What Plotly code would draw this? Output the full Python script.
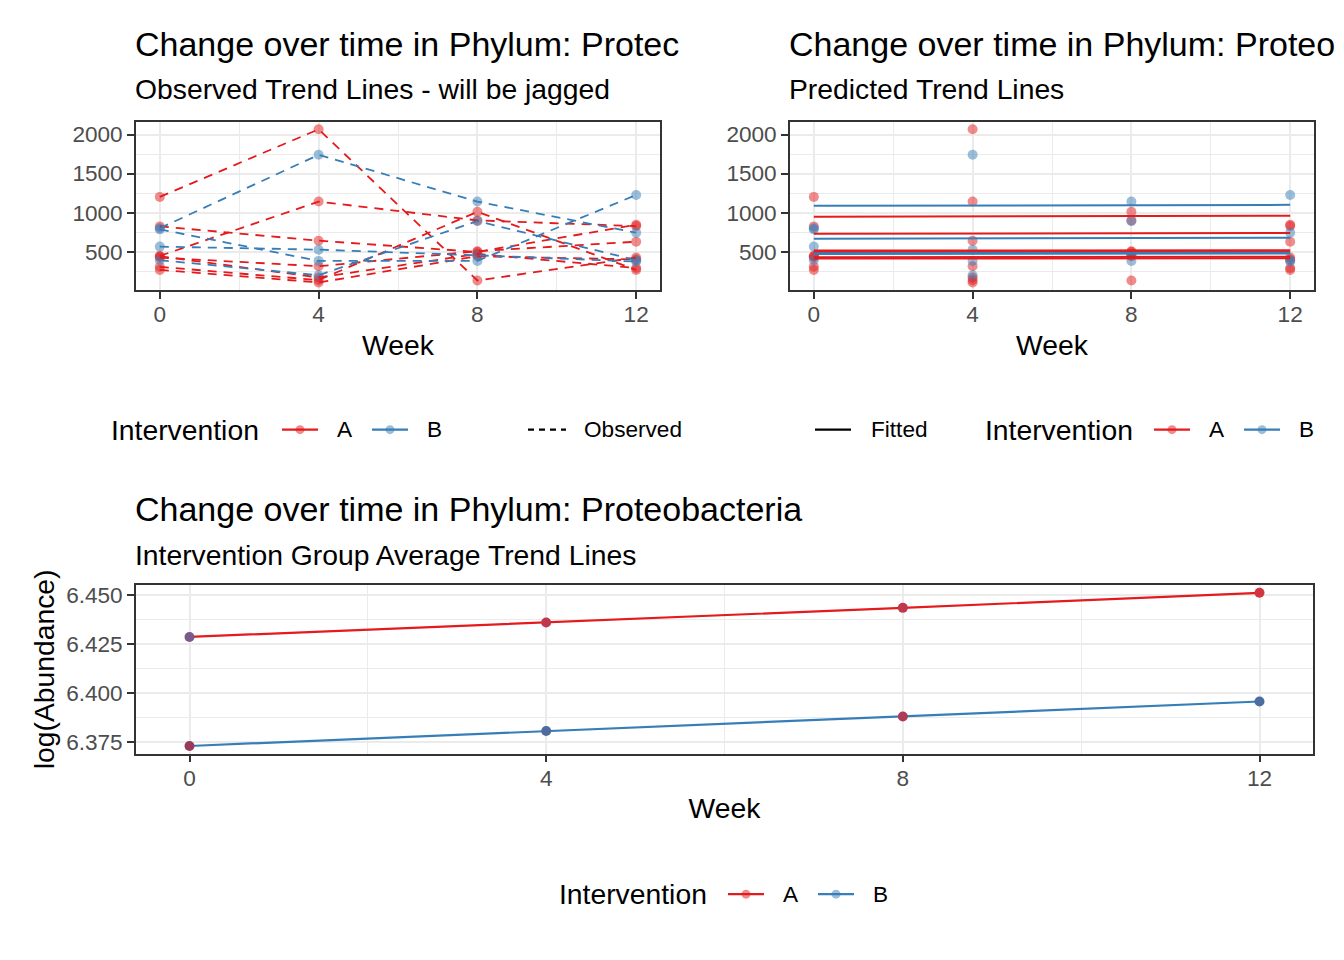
import plotly.graph_objects as go

# ---------------- data ----------------
weeks = [0, 4, 8, 12]

# observed abundance per subject (weeks 0, 4, 8, 12)
obs_A = [
    [1201, 2067, 130, 424],
    [823, 640, 496, 844],
    [445, 1141, 900, 827],
    [424, 313, 505, 627],
    [305, 135, 1010, 266],
    [266, 105, 440, 400],
    [440, 169, 470, 290],
]
obs_B = [
    [800, 1740, 1141, 742],
    [785, 381, 381, 1226],
    [564, 525, 453, 373],
    [390, 198, 891, 390],
]

# fitted (predicted) subject trend lines: value at week 0 and week 12
fit_weeks = [0, 12]
fit_A = [
    [946, 959],
    [729, 738],
    [513, 518],
    [496, 502],
    [428, 433],
    [411, 416],
]
fit_B = [
    [1086, 1099],
    [665, 678],
    [480, 486],
    [470, 476],
]

# intervention group average trend (log abundance)
avg_A = [6.4287, 6.4361, 6.4436, 6.4513]
avg_B = [6.3728, 6.3805, 6.3879, 6.3956]

groups = ["A", "B"]
legend_title = "Intervention"
linetype_labels = ["Observed", "Fitted"]

# ---------------- style ----------------
OFF = 8                      # page body margin
W, H = 1344 - 2 * OFF, 960 - 2 * OFF
RED, BLUE = "#E41A1C", "#377EB8"
RED_A, BLUE_A = "rgba(228,26,28,0.5)", "rgba(55,126,184,0.5)"
avg_pt_A = ["#7A5A8A", "#C0384E", "#C0384E", "#D4343F"]
avg_pt_B = ["#983A5C", "#4F6B9E", "#AE3C58", "#4A6EA2"]
FONT = "Liberation Sans, Arial, sans-serif"
TICK = 22.6
BASE = 28.3
TITLE = 34


def px(x):
    return (x - OFF) / W


def py(y):
    return 1 - (y - OFF) / H


fig = go.Figure()

# ---- top-left: observed trend lines ----
for vals_list, cola in [(obs_A, RED_A), (obs_B, BLUE_A)]:
    xs, ys = [], []
    for v in vals_list:
        xs += weeks
        ys += v
    fig.add_trace(go.Scatter(x=xs, y=ys, mode="markers", xaxis="x", yaxis="y",
                             marker=dict(color=cola, size=10, line=dict(width=0)),
                             showlegend=False, hoverinfo="skip"))
for vals_list, col in [(obs_A, RED), (obs_B, BLUE)]:
    for v in vals_list:
        fig.add_trace(go.Scatter(x=weeks, y=v, mode="lines", xaxis="x", yaxis="y",
                                 line=dict(color=col, width=1.8, dash="9px,7px"),
                                 showlegend=False, hoverinfo="skip"))

# ---- top-right: predicted trend lines ----
for vals_list, cola in [(obs_A, RED_A), (obs_B, BLUE_A)]:
    xs, ys = [], []
    for v in vals_list:
        xs += weeks
        ys += v
    fig.add_trace(go.Scatter(x=xs, y=ys, mode="markers", xaxis="x2", yaxis="y2",
                             marker=dict(color=cola, size=10, line=dict(width=0)),
                             showlegend=False, hoverinfo="skip"))
for vals_list, col in [(fit_A, RED), (fit_B, BLUE)]:
    for v in vals_list:
        fig.add_trace(go.Scatter(x=fit_weeks, y=v, mode="lines", xaxis="x2", yaxis="y2",
                                 line=dict(color=col, width=2),
                                 showlegend=False, hoverinfo="skip"))

# ---- bottom: group averages ----
for g, vals, col, ptcols in [("A", avg_A, RED, avg_pt_A), ("B", avg_B, BLUE, avg_pt_B)]:
    fig.add_trace(go.Scatter(x=weeks, y=vals, mode="lines+markers", xaxis="x3", yaxis="y3",
                             name=g, line=dict(color=col, width=2.2),
                             marker=dict(color=ptcols, size=10, line=dict(width=0)),
                             showlegend=False, hoverinfo="skip"))


def yrange(vals):
    lo, hi = min(vals), max(vals)
    s = hi - lo
    return [lo - 0.05 * s, hi + 0.05 * s]


all_top = [v for row in obs_A + obs_B for v in row]
top_range = yrange(all_top)
bot_range = yrange(avg_A + avg_B)

grid = dict(showgrid=True, gridcolor="#EBEBEB", gridwidth=1.6, zeroline=False,
            showline=True, linecolor="#333333", linewidth=1.6, mirror=True,
            ticks="outside", ticklen=7, tickwidth=1.6, tickcolor="#333333",
            tickfont=dict(size=TICK, color="#4D4D4D", family=FONT))

xcommon = dict(grid, range=[-0.6, 12.6], tickmode="linear", tick0=0, dtick=4,
               ticklabelstandoff=-4,
               minor=dict(dtick=2, tick0=0, showgrid=True, gridcolor="#EBEBEB", gridwidth=0.8),
               title=dict(text="Week", font=dict(size=BASE, color="black", family=FONT), standoff=9))
ytop = dict(grid, range=top_range, tickmode="linear", tick0=0, dtick=500,
            minor=dict(dtick=250, tick0=0, showgrid=True, gridcolor="#EBEBEB", gridwidth=0.8))

fig.update_layout(
    width=W, height=H, margin=dict(l=0, r=0, t=0, b=0),
    paper_bgcolor="white", plot_bgcolor="white",
    font=dict(family=FONT, color="black"),
    xaxis=dict(xcommon, domain=[px(136), px(660)], anchor="y"),
    yaxis=dict(ytop, domain=[py(289), py(120)], anchor="x"),
    xaxis2=dict(xcommon, domain=[px(790), px(1314)], anchor="y2"),
    yaxis2=dict(ytop, domain=[py(289), py(120)], anchor="x2"),
    xaxis3=dict(xcommon, domain=[px(136), px(1313)], anchor="y3"),
    yaxis3=dict(grid, range=bot_range, tickmode="linear", tick0=6.375, dtick=0.025, tickformat=".3f",
                minor=dict(dtick=0.0125, tick0=6.375, showgrid=True, gridcolor="#EBEBEB", gridwidth=0.8),
                domain=[py(754), py(585)], anchor="x3",
                title=dict(text="log(Abundance)", font=dict(size=BASE, color="black", family=FONT), standoff=3)),
    showlegend=False,
)

# ---- titles ----
annots = [
    ("Change over time in Phylum: Protec", 136, 42, TITLE),
    ("Observed Trend Lines - will be jagged", 136, 87, BASE),
    ("Change over time in Phylum: Proteo", 790, 42, TITLE),
    ("Predicted Trend Lines", 790, 87, BASE),
    ("Change over time in Phylum: Proteobacteria", 136, 509, TITLE),
    ("Intervention Group Average Trend Lines", 136, 555, BASE),
]


def text_at(text, x, y, size):
    fig.add_annotation(text=text, x=px(x - 3), y=py(y), xref="paper", yref="paper",
                       xanchor="left", yanchor="middle", showarrow=False,
                       font=dict(size=size, color="black", family=FONT))


for t, x, y, s in annots:
    text_at(t, x, y, s)


# ---- legends (ggplot-style keys) ----
def key(x0, x1, y, color, dash="solid", fill=None):
    fig.add_shape(type="line", xref="paper", yref="paper",
                  x0=px(x0), x1=px(x1), y0=py(y), y1=py(y),
                  line=dict(color=color, width=2.2, dash=dash))
    if fill:
        cx = (x0 + x1) / 2
        r = 4.5
        fig.add_shape(type="circle", xref="paper", yref="paper",
                      x0=px(cx - r), x1=px(cx + r), y0=py(y + r), y1=py(y - r),
                      fillcolor=fill, line=dict(width=0))


def colour_legend(x_title, x_key, y):
    text_at(legend_title, x_title, y, BASE)
    for i, (g, col, cola) in enumerate(zip(groups, [RED, BLUE], [RED_A, BLUE_A])):
        k0 = x_key + 90 * i
        key(k0, k0 + 36, y, col, fill=cola)
        text_at(g, k0 + 56, y, TICK)


colour_legend(112, 282, 429)
key(528, 566, 429, "black", dash="6px,5px")
text_at(linetype_labels[0], 585, 429, TICK)
key(815, 851, 429, "black")
text_at(linetype_labels[1], 872, 429, TICK)
colour_legend(986, 1154, 429)
colour_legend(560, 728, 895)

fig.write_html("out.html")
